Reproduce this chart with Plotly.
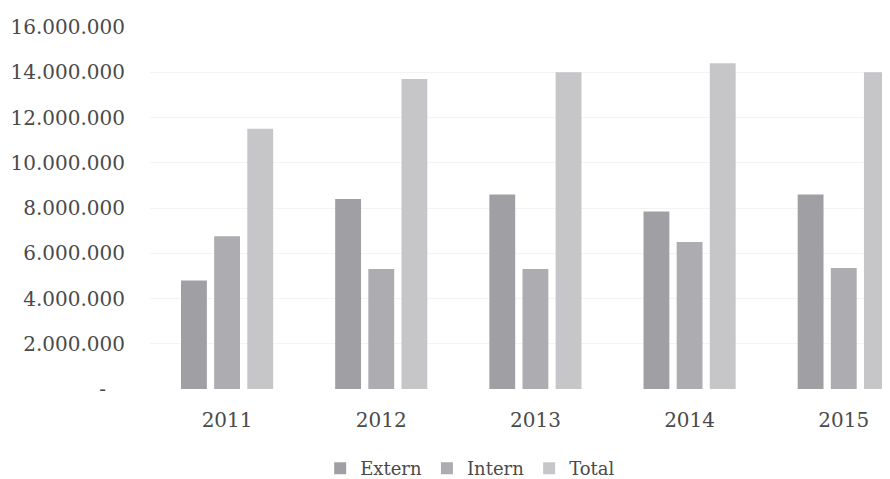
import plotly.graph_objects as go

years = ["2011", "2012", "2013", "2014", "2015"]
extern = [4800000, 8400000, 8600000, 7850000, 8600000]
intern = [6750000, 5300000, 5300000, 6500000, 5350000]
total = [11500000, 13700000, 14000000, 14400000, 14000000]

tick_vals = [0, 2000000, 4000000, 6000000, 8000000, 10000000, 12000000, 14000000, 16000000]
tick_text = ["-\u00a0\u00a0\u00a0", "2.000.000", "4.000.000", "6.000.000", "8.000.000",
             "10.000.000", "12.000.000", "14.000.000", "16.000.000"]

font_family = "DejaVu Serif"
text_color = "#4a4a4a"

fig = go.Figure()
fig.add_trace(go.Bar(name="Extern", x=years, y=extern, marker_color="#a0a0a4", marker_line_width=0))
fig.add_trace(go.Bar(name="Intern", x=years, y=intern, marker_color="#adadb1", marker_line_width=0))
fig.add_trace(go.Bar(name="Total", x=years, y=total, marker_color="#c6c6c9", marker_line_width=0))

fig.update_layout(
    width=882, height=479,
    margin=dict(l=142, r=0, t=19, b=98),
    paper_bgcolor="white", plot_bgcolor="white",
    barmode="group", bargap=0.355, bargroupgap=0.22,
    font=dict(family=font_family, size=18, color=text_color),
    showlegend=True,
    legend=dict(orientation="h", xref="container", yref="container",
                x=0.524, xanchor="center", y=0.0, yanchor="bottom",
                font=dict(size=18, color=text_color), itemwidth=30,
                traceorder="normal"),
)
fig.update_xaxes(range=[-0.5, 4.3], showgrid=False, showline=False, zeroline=False,
                 ticks="", tickfont=dict(size=20, color=text_color), ticklabelstandoff=17)
fig.update_yaxes(range=[0, 16000000], tickvals=tick_vals, ticktext=tick_text,
                 showgrid=True, gridcolor="#f3f3f3", gridwidth=1, zeroline=False,
                 showline=False, ticks="", ticklabelstandoff=24,
                 tickfont=dict(size=20, color=text_color))

fig.write_html("out.html")
